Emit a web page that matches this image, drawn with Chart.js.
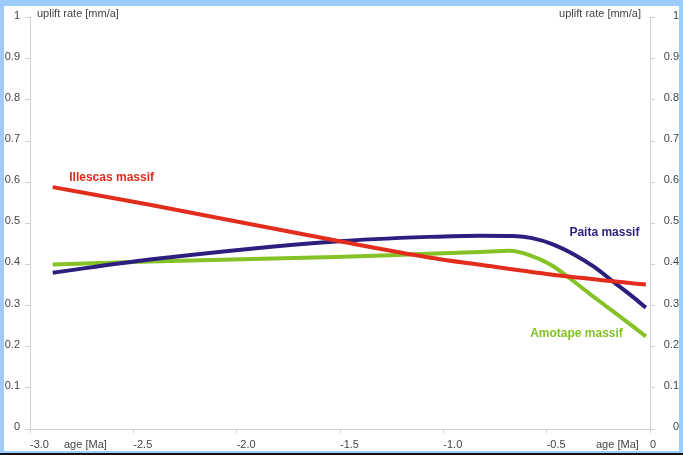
<!DOCTYPE html>
<html>
<head>
<meta charset="utf-8">
<script src="https://cdn.jsdelivr.net/npm/chart.js@4"></script>
<style>
html,body{margin:0;padding:0;width:683px;height:455px;overflow:hidden;background:#9ccbfc;}
#box{position:absolute;left:4px;top:6px;width:675px;height:445px;background:#fff;}
#bot{position:absolute;left:0;top:453px;width:683px;height:2px;background:#111;}
</style>
</head>
<body>
<div id="box"><canvas id="c" width="675" height="445"></canvas></div>
<div id="bot"></div>
<script>
// readings (age in Ma, uplift rate in mm/a)
const illescasAge = [-2.89, -2.42, -1.52, -1.07, -0.82, -0.5, -0.02];
const illescasRate = [0.588, 0.545, 0.458, 0.417, 0.399, 0.377, 0.351];

const paitaAge = [-2.89, -2.42, -1.52, -1.07, -0.82, -0.66, -0.57, -0.47, -0.37, -0.27, -0.18, -0.08, -0.02];
const paitaRate = [0.380, 0.412, 0.456, 0.467, 0.470, 0.469, 0.464, 0.449, 0.425, 0.394, 0.359, 0.320, 0.295];

const amotapeAge = [-2.89, -2.42, -1.52, -1.07, -0.82, -0.68, -0.58, -0.48, -0.39, -0.29, -0.19, -0.1, -0.02];
const amotapeRate = [0.400, 0.407, 0.418, 0.426, 0.430, 0.433, 0.422, 0.399, 0.367, 0.328, 0.290, 0.256, 0.225];

const seriesNames = ['Illescas massif', 'Paita massif', 'Amotape massif'];
const seriesColors = ['#e22d1d', '#2c1f7e', '#84c226'];
// where each series name sits (age, rate)
const nameAge = [-2.81, -0.39, -0.58];
const nameRate = [0.61, 0.477, 0.232];

const yTitle = 'uplift rate [mm/a]';
const xTitle = 'age [Ma]';

const pts = (xs, ys) => xs.map((x, i) => ({x: x, y: ys[i]}));
const FONT = 'Liberation Sans, Arial, sans-serif';

const textPlugin = {
  id: 'texts',
  afterDatasetsDraw(chart) {
    const {ctx, chartArea: a, scales: {x, y}} = chart;
    ctx.save();
    ctx.font = '11px ' + FONT;
    ctx.fillStyle = '#444';
    ctx.textBaseline = 'middle';
    ctx.textAlign = 'left';
    ctx.fillText(yTitle, a.left + 7, 8);
    ctx.textAlign = 'right';
    ctx.fillText(yTitle, a.right - 9, 8);
    ctx.textAlign = 'left';
    ctx.fillText(xTitle, a.left + 34, 439);
    ctx.fillText(xTitle, a.right - 54, 439);
    ctx.font = 'bold 12px ' + FONT;
    seriesNames.forEach((n, i) => {
      ctx.fillStyle = seriesColors[i];
      ctx.fillText(n, x.getPixelForValue(nameAge[i]), y.getPixelForValue(nameRate[i]));
    });
    ctx.restore();
  }
};

const yAxis = (pos) => ({
  type: 'linear', position: pos, min: 0, max: 1,
  afterFit: s => { s.width = pos === 'left' ? 26 : 29; },
  grid: {drawOnChartArea: false, drawTicks: true, tickLength: 5, color: '#d0d0d0'},
  border: {display: true, color: '#d0d0d0'},
  ticks: {
    stepSize: 0.1, padding: 5, labelOffset: -2, crossAlign: pos === 'left' ? 'near' : 'far',
    color: '#444', font: {family: FONT, size: 11},
    callback: v => +v.toFixed(1) + ''
  }
});

new Chart(document.getElementById('c'), {
  type: 'line',
  data: {
    datasets: [
      {label: seriesNames[0], data: pts(illescasAge, illescasRate), borderColor: seriesColors[0]},
      {label: seriesNames[1], data: pts(paitaAge, paitaRate), borderColor: seriesColors[1]},
      {label: seriesNames[2], data: pts(amotapeAge, amotapeRate), borderColor: seriesColors[2]}
    ].map(d => Object.assign(d, {borderWidth: 4, pointRadius: 0, fill: false, cubicInterpolationMode: 'monotone', borderCapStyle: 'butt'}))
  },
  options: {
    responsive: false, animation: false,
    layout: {padding: {top: 10, left: 0, right: 0, bottom: 0}},
    plugins: {legend: {display: false}, tooltip: {enabled: false}},
    scales: {
      x: {
        type: 'linear', min: -3, max: 0,
        afterFit: s => { s.height = 22; },
        grid: {drawOnChartArea: false, drawTicks: true, tickLength: 4, color: '#d0d0d0'},
        border: {display: true, color: '#d0d0d0'},
        ticks: {
          stepSize: 0.5, align: 'start', padding: 5, autoSkip: false, maxRotation: 0,
          color: '#444', font: {family: FONT, size: 11},
          callback: v => v === 0 ? '0' : v.toFixed(1)
        }
      },
      y: yAxis('left'),
      y2: yAxis('right')
    }
  },
  plugins: [textPlugin]
});
</script>
</body>
</html>
